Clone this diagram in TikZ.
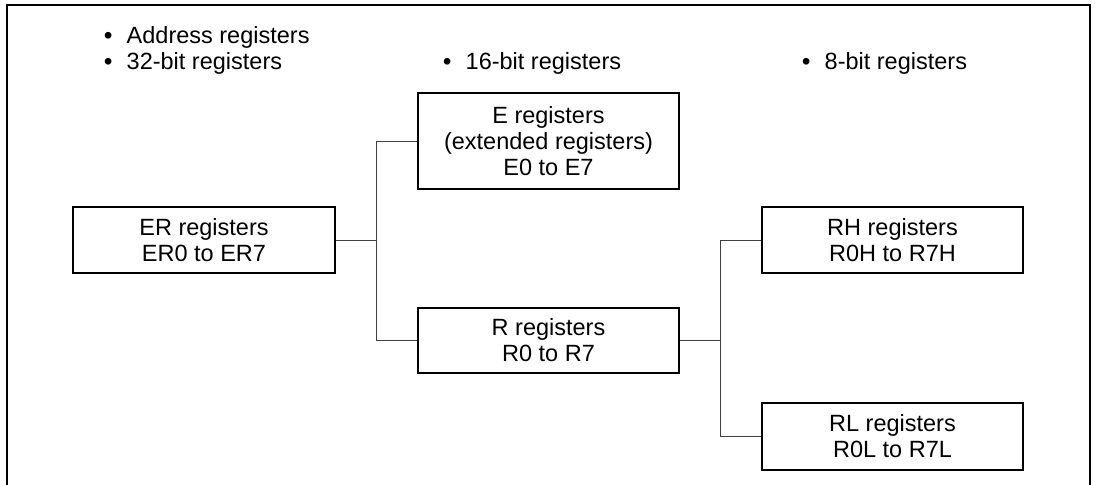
\documentclass[tikz,border=0pt]{standalone}
\usepackage{fontspec}
\setmainfont{Liberation Sans}
\usetikzlibrary{positioning}
\newcommand{\regbullet}{\makebox[22.5pt][l]{\textbf{•}}}
\begin{document}
\begin{tikzpicture}[x=1pt, y=-1pt, every node/.style={font=\fontsize{23.5}{26}\selectfont}]
  \tikzstyle{regbox}=[draw, line width=1.3pt, rectangle, minimum width=261pt, align=center, inner sep=0pt]
  \tikzstyle{head}=[anchor=west, inner sep=0pt]
  \tikzstyle{link}=[line width=1pt, black!75]

  \useasboundingbox (0,0) rectangle (1096,485);

  % Moldura
  \draw[line width=1.3pt] (7,485) -- (7,5) -- (1090,5) -- (1090,485);

  % Cabeçalhos
  \node[head] (haddr) at (104,37) {\regbullet Address registers};
  \node[head] (h32) at (104,63) {\regbullet 32-bit registers};
  \node[head] (h16) at (443,63) {\regbullet 16-bit registers};
  \node[head] (h8) at (802,63) {\regbullet 8-bit registers};

  % Registradores
  \node[regbox, minimum width=262pt, minimum height=66pt] (er) at (204,240) {ER registers\\ER0 to ER7};
  \node[regbox, minimum height=96pt] (e) at (548.5,141) {E registers\\(extended registers)\\E0 to E7};
  \node[regbox, minimum height=65pt] (r) at (548.5,340.5) {R registers\\R0 to R7};
  \node[regbox, minimum height=66pt] (rh) at (892.5,240) {RH registers\\R0H to R7H};
  \node[regbox, minimum height=67pt] (rl) at (892.5,436.5) {RL registers\\R0L to R7L};

  % Ligações
  \coordinate (j1) at (376,240);
  \coordinate (j2) at (720,340.5);
  \draw[link] (er.east) -- (j1) |- (e.west);
  \draw[link] (j1) |- (r.west);
  \draw[link] (r.east) -- (j2) |- (rh.west);
  \draw[link] (j2) |- (rl.west);
\end{tikzpicture}
\end{document}
